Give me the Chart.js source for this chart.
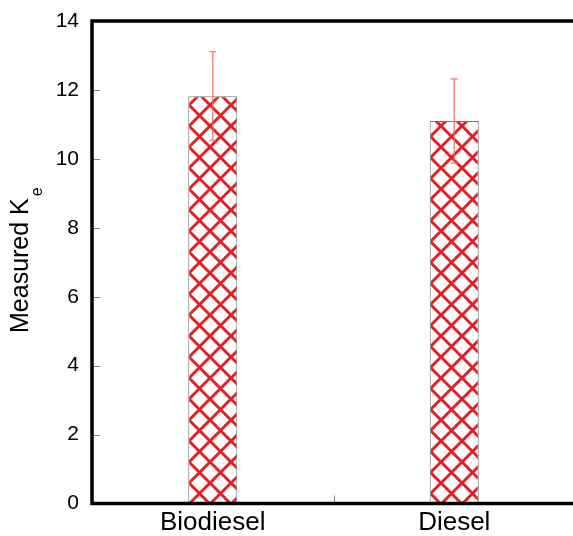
<!DOCTYPE html>
<html>
<head>
<meta charset="utf-8">
<script src="https://cdn.jsdelivr.net/npm/chart.js@4"></script>
<style>
  html, body { margin: 0; padding: 0; overflow: hidden; background: #fff; }
  #wrap { width: 578px; height: 536px; }
</style>
</head>
<body>
<div id="wrap"><canvas id="chart-1"></canvas></div>
<script>
const labels = ['Biodiesel', 'Diesel'];
const keValues = [11.82, 11.1];
const keErrors = [1.29, 1.22];
const yTicks = [0, 2, 4, 6, 8, 10, 12, 14];

// red cross hatch on white
function makeHatch() {
  const size = 21;
  const c = document.createElement('canvas');
  c.width = size;
  c.height = size;
  const g = c.getContext('2d');
  g.fillStyle = '#fff';
  g.fillRect(0, 0, size, size);
  g.strokeStyle = 'rgb(224,34,38)';
  g.lineWidth = 3;
  g.beginPath();
  for (const o of [-size, 0, size]) {
    g.moveTo(o, 0); g.lineTo(o + size, size);
    g.moveTo(o + size, 0); g.lineTo(o, size);
  }
  g.stroke();
  return g.createPattern(c, 'repeat');
}

const frame = {
  id: 'frame',
  afterDatasetsDraw(chart) {
    const { ctx, scales: { x, y } } = chart;
    // error bars
    ctx.save();
    ctx.strokeStyle = 'rgba(240,110,100,0.8)';
    ctx.lineWidth = 1.5;
    keValues.forEach((v, i) => {
      const px = x.getPixelForValue(i);
      const hi = y.getPixelForValue(v + keErrors[i]);
      const lo = y.getPixelForValue(v - keErrors[i]);
      ctx.beginPath();
      ctx.moveTo(px, hi); ctx.lineTo(px, lo);
      ctx.moveTo(px - 3.5, hi); ctx.lineTo(px + 3.5, hi);
      ctx.moveTo(px - 3.5, lo); ctx.lineTo(px + 3.5, lo);
      ctx.stroke();
    });
    ctx.restore();
  },
  afterDraw(chart) {
    const { ctx, chartArea: a, scales: { x, y } } = chart;
    ctx.save();
    // inner ticks
    ctx.strokeStyle = '#888';
    ctx.lineWidth = 1;
    ctx.beginPath();
    yTicks.forEach(t => {
      const py = Math.round(y.getPixelForValue(t)) + 0.5;
      ctx.moveTo(a.left, py); ctx.lineTo(a.left + 8, py);
    });
    const mx = Math.round((x.getPixelForValue(0) + x.getPixelForValue(1)) / 2) + 0.5;
    ctx.moveTo(mx, a.bottom); ctx.lineTo(mx, a.bottom - 8);
    ctx.stroke();
    // frame
    ctx.strokeStyle = '#000';
    ctx.lineWidth = 3.5;
    ctx.beginPath();
    ctx.moveTo(a.right + 5, a.top);
    ctx.lineTo(a.left, a.top);
    ctx.lineTo(a.left, a.bottom);
    ctx.lineTo(a.right + 5, a.bottom);
    ctx.stroke();
    // y title with subscript
    ctx.fillStyle = '#000';
    ctx.translate(27.5, 333);
    ctx.rotate(-Math.PI / 2);
    ctx.font = '25px "Liberation Sans", Arial, sans-serif';
    ctx.textAlign = 'left';
    ctx.textBaseline = 'alphabetic';
    const main = 'Measured K';
    ctx.fillText(main, 0, 0);
    const w = ctx.measureText(main).width;
    ctx.font = '16px "Liberation Sans", Arial, sans-serif';
    ctx.fillText('e', w + 2, 14.5);
    ctx.restore();
  }
};

const ctx1 = document.getElementById('chart-1').getContext('2d');
const myChart = new Chart(ctx1, {
  type: 'bar',
  data: {
    labels: labels,
    datasets: [{
      data: keValues,
      backgroundColor: makeHatch(),
      borderColor: '#777',
      borderWidth: 1,
      borderSkipped: false,
      barPercentage: 0.203,
      categoryPercentage: 1
    }]
  },
  options: {
    responsive: true,
    maintainAspectRatio: false,
    animation: false,
    layout: { padding: { top: 21, right: 3, left: 0, bottom: 0 } },
    plugins: { legend: { display: false }, tooltip: { enabled: false } },
    scales: {
      x: {
        grid: { display: false, drawTicks: false },
        border: { display: false },
        ticks: {
          color: '#000',
          padding: 4,
          font: { family: '"Liberation Sans", Arial, sans-serif', size: 26 }
        },
        afterFit(s) { s.height = 32.5; }
      },
      y: {
        min: 0,
        max: 14,
        grid: { display: false, drawTicks: false },
        border: { display: false },
        ticks: {
          stepSize: 2,
          color: '#000',
          padding: 13,
          font: { family: '"Liberation Sans", Arial, sans-serif', size: 21 }
        },
        afterFit(s) { s.width = 92; s.paddingTop = 0; }
      }
    }
  },
  plugins: [frame]
});
</script>
</body>
</html>
